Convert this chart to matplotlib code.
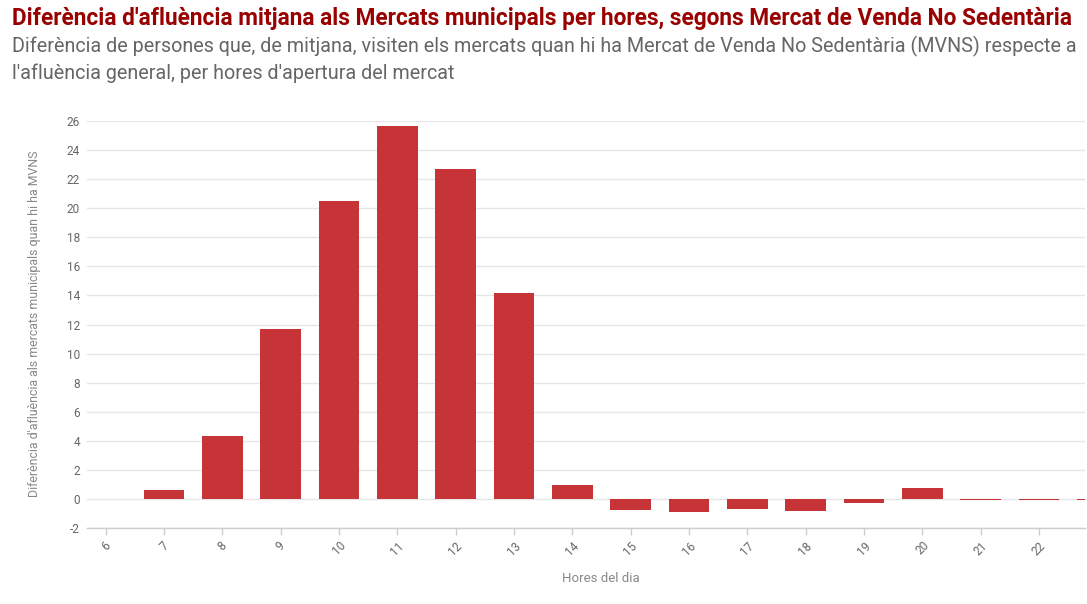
import matplotlib
matplotlib.use("Agg")
import matplotlib.pyplot as plt

hours = [6, 7, 8, 9, 10, 11, 12, 13, 14, 15, 16, 17, 18, 19, 20, 21, 22, 23]
values = [0.0, 0.62, 4.33, 11.69, 20.5, 25.65, 22.7, 14.17, 0.96, -0.76,
          -0.92, -0.67, -0.83, -0.3, 0.73, -0.05, -0.05, -0.1]
tick_labels = [str(h) for h in hours]
yticks = list(range(-2, 27, 2))

title = "Diferència d'afluència mitjana als Mercats municipals per hores, segons Mercat de Venda No Sedentària"
subtitle = ("Diferència de persones que, de mitjana, visiten els mercats quan hi ha Mercat de Venda No Sedentària (MVNS) respecte a\n"
            "l'afluència general, per hores d'apertura del mercat")
ylabel = "Diferència d'afluència als mercats municipals quan hi ha MVNS"
xlabel = "Hores del dia"

plt.rcParams['font.family'] = ['Roboto', 'DejaVu Sans']

W, H = 1087, 604
fig = plt.figure(figsize=(W / 100, H / 100), dpi=100)
left, right, top, bottom = 87, 1085, 121, 528
ax = fig.add_axes([left / W, 1 - bottom / H, (right - left) / W, (bottom - top) / H])

ax.bar(hours, values, width=0.7, color="#C73437", zorder=3)
ax.set_xlim(5.68, 22.79)
ax.set_ylim(-2, 26)
ax.set_yticks(yticks)
ax.set_yticklabels([str(t) for t in yticks], fontsize=8.5, color="#666666")
ax.set_xticks(hours[:-1])
ax.set_xticklabels(tick_labels[:-1], fontsize=8.5, color="#666666", rotation=45, ha="center", va="top")
ax.tick_params(axis='y', length=0, pad=5)
ax.tick_params(axis='x', length=5, color="#cccccc", width=1, pad=3)
ax.grid(axis='y', color="#e6e6e6", linewidth=1, zorder=0)
for s in ['top', 'right', 'left']:
    ax.spines[s].set_visible(False)
ax.spines['bottom'].set_color("#cccccc")
ax.spines['bottom'].set_linewidth(1)

fig.text(12 / W, 1 - 18 / H, title, fontsize=16.3, fontweight='bold', color="#990000", ha='left', va='center')
fig.text(12 / W, 1 - 36 / H, subtitle, fontsize=14.2, color="#666666", ha='left', va='top', linespacing=1.42)
fig.text(35 / W, 1 - 324 / H, ylabel, fontsize=8.9, color="#888888", rotation=90, ha='center', va='center')
fig.text(601 / W, 1 - 578 / H, xlabel, fontsize=9.5, color="#888888", ha='center', va='center')

fig.savefig("out.png", dpi=100)
